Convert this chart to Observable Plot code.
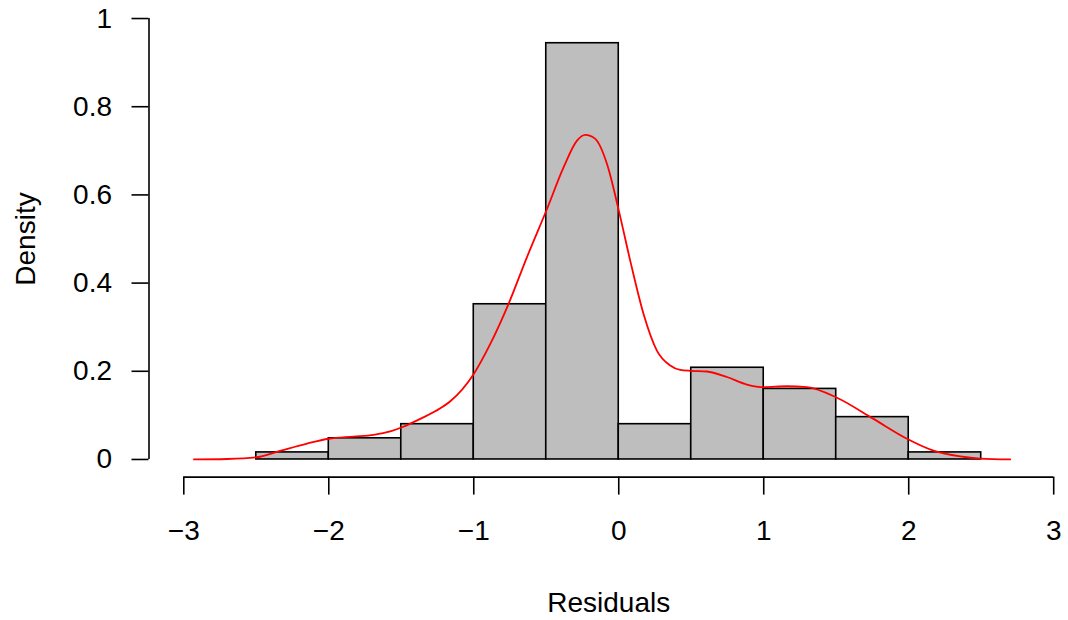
<!DOCTYPE html>
<html><head><meta charset="utf-8">
<script src="https://cdn.jsdelivr.net/npm/d3@7"></script>
<script src="https://cdn.jsdelivr.net/npm/@observablehq/plot@0.6"></script>
<style>
html,body{margin:0;padding:0;background:#fff}
#chart svg{font-family:"Liberation Sans",Arial,Helvetica,sans-serif;display:block;overflow:visible}
</style>
</head><body><div id="chart"></div><script>
// Histogram bins (density scale)
const binStart = [-2.5, -2, -1.5, -1, -0.5, 0, 0.5, 1, 1.5, 2];
const binEnd = [-2, -1.5, -1, -0.5, 0, 0.5, 1, 1.5, 2, 2.5];
const binDensity = [0.016, 0.048, 0.08, 0.352, 0.944, 0.08, 0.208, 0.16, 0.096, 0.016];

// Kernel density estimate
const kdeX = [-2.93, -2.7, -2.495, -2.33, -2.15, -2.0, -1.83, -1.69, -1.576, -1.495, -1.369, -1.231, -1.162, -1.0, -0.886, -0.76, -0.633, -0.495, -0.38, -0.288, -0.231, -0.162, -0.081, 0.0, 0.079, 0.171, 0.263, 0.355, 0.424, 0.5, 0.608, 0.746, 0.884, 1.0, 1.16, 1.298, 1.505, 1.757, 1.988, 2.171, 2.355, 2.493, 2.70];
const kdeY = [0.0, 0.001, 0.005, 0.02, 0.036, 0.047, 0.052, 0.056, 0.0635, 0.073, 0.092, 0.116, 0.132, 0.194, 0.262, 0.353, 0.459, 0.568, 0.663, 0.723, 0.736, 0.727, 0.670, 0.565, 0.451, 0.330, 0.247, 0.213, 0.203, 0.201, 0.1995, 0.187, 0.170, 0.164, 0.166, 0.164, 0.140, 0.092, 0.047, 0.020, 0.007, 0.002, 0.0];

// Axes
const xTicks = [-3, -2, -1, 0, 1, 2, 3];
const xTickLabels = ["\u22123", "\u22122", "\u22121", "0", "1", "2", "3"];
const yTicks = [0, 0.2, 0.4, 0.6, 0.8, 1];
const yTickLabels = ["0", "0.2", "0.4", "0.6", "0.8", "1"];
const xTitle = "Residuals";
const yTitle = "Density";

const bins = binStart.map((s, i) => ({x1: s, x2: binEnd[i], y: binDensity[i]}));
const kde = kdeX.map((x, i) => ({x, y: kdeY[i]}));

// R-style 4% padding of the user coordinates
const xLo = xTicks[0] - 0.04 * (xTicks.at(-1) - xTicks[0]);
const xHi = xTicks.at(-1) + 0.04 * (xTicks.at(-1) - xTicks[0]);
const yLo = yTicks[0] - 0.04 * (yTicks.at(-1) - yTicks[0]);
const yHi = yTicks.at(-1) + 0.04 * (yTicks.at(-1) - yTicks[0]);

const FS = 28;
const W = 1068, H = 620;

const chart = Plot.plot({
  width: W, height: H,
  marginLeft: 148.5, marginRight: 0, marginTop: 0.4, marginBottom: 143.4,
  style: {fontSize: FS + "px", fontFamily: '"Liberation Sans", Arial, sans-serif', background: "#fff"},
  x: {domain: [xLo, xHi], range: [148.5, 1088]},
  y: {domain: [yLo, yHi], range: [476.6, 0.4]},
  marks: [
    Plot.rectY(bins, {x1: "x1", x2: "x2", y1: 0, y2: "y", fill: "#bebebe", stroke: "#000", strokeWidth: 1.6}),
    Plot.line(kde, {x: "x", y: "y", stroke: "#ff0000", strokeWidth: 1.8, curve: "monotone-x"}),
    Plot.ruleY([yLo], {x1: xTicks[0], x2: xTicks.at(-1), stroke: "#000", strokeWidth: 1.6}),
    Plot.ruleX([xLo], {y1: yTicks[0], y2: yTicks.at(-1), stroke: "#000", strokeWidth: 1.6}),
    Plot.axisX(xTicks, {
      anchor: "bottom", tickSize: 18, tickPadding: 25, strokeWidth: 1.6, color: "#000",
      fontSize: FS,
      tickFormat: d => xTickLabels[xTicks.indexOf(d)],
      label: xTitle, labelAnchor: "center", labelOffset: 135, labelArrow: "none"
    }),
    Plot.axisY(yTicks, {
      anchor: "left", tickSize: 17, tickPadding: 20, strokeWidth: 1.6, color: "#000",
      fontSize: FS,
      tickFormat: d => yTickLabels[yTicks.indexOf(d)],
      label: yTitle, labelAnchor: "center", labelOffset: 134, labelArrow: "none"
    })
  ]
});
document.getElementById("chart").appendChild(chart);
</script></body></html>
